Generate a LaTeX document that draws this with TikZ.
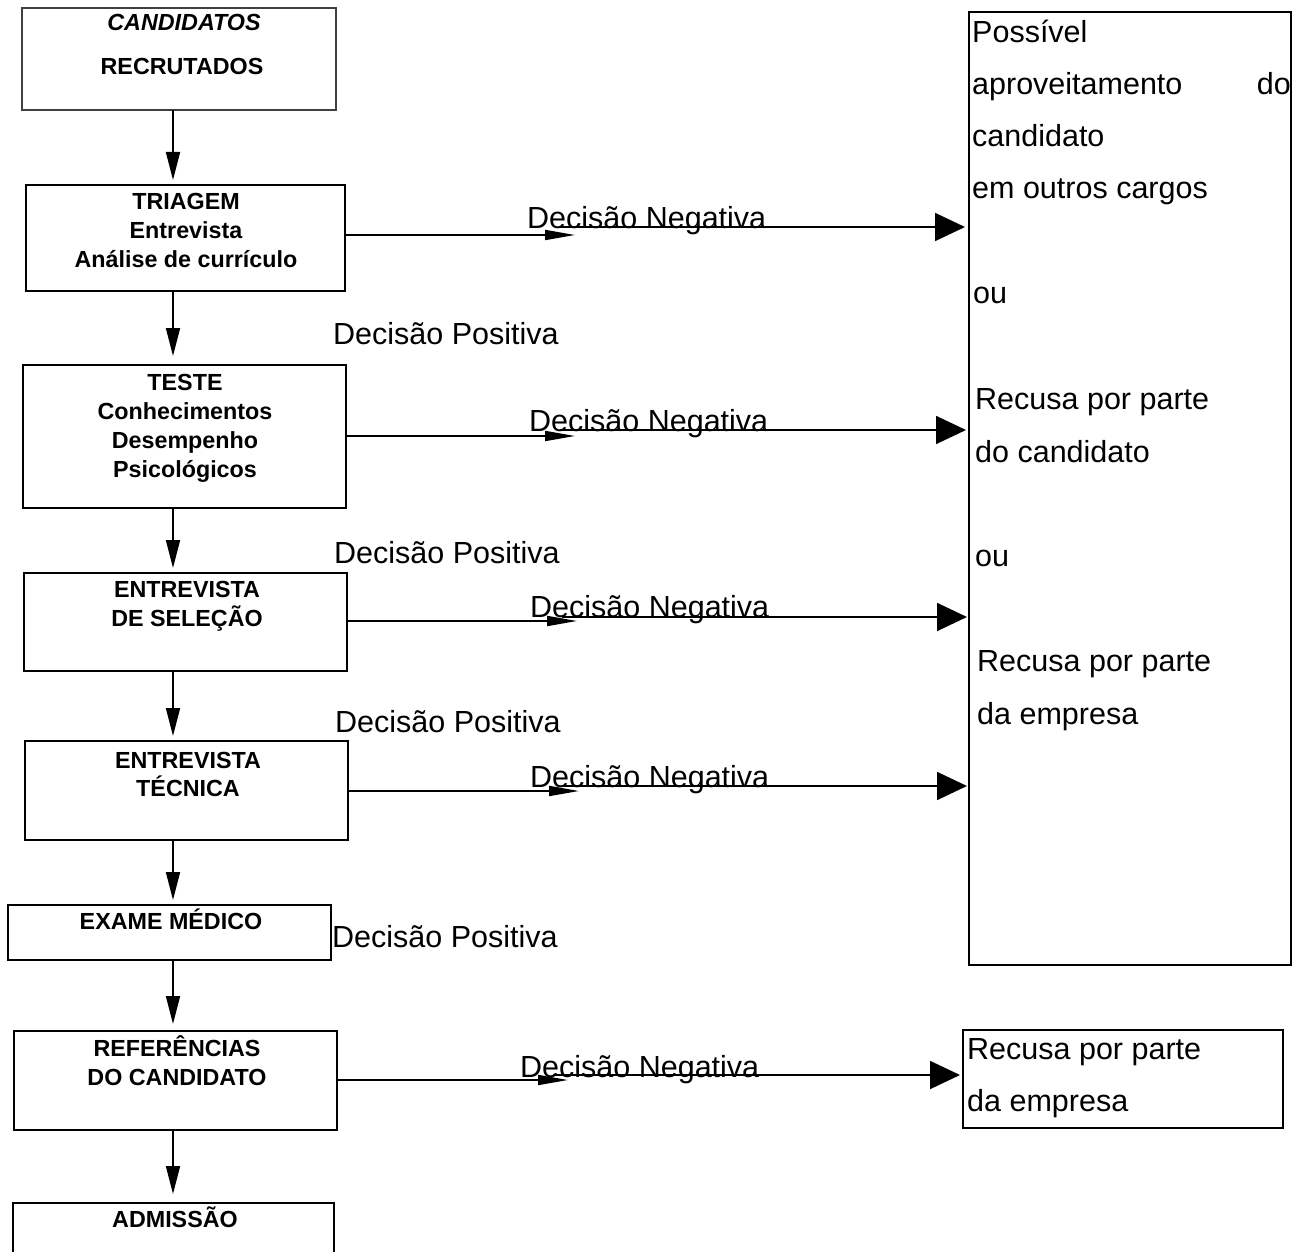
\documentclass[tikz,border=0pt]{standalone}
\usepackage{fontspec}
\setmainfont{Liberation Sans}
\usetikzlibrary{arrows.meta}
\begin{document}
\begin{tikzpicture}[x=1pt,y=-1pt,
  box/.style={draw=black, line width=1.8pt, anchor=north west, inner sep=0pt, outer sep=0pt},
  boxtxt/.style={anchor=base, inner sep=0pt, font=\bfseries\fontsize{23.3}{28}\selectfont},
  lbl/.style={anchor=base west, inner sep=0pt, font=\fontsize{30.5}{36}\selectfont},
  rtxt/.style={anchor=base west, inner sep=0pt, font=\fontsize{30.5}{36}\selectfont},
  varrow/.style={line width=1.8pt, -{Triangle[length=28pt,width=14pt]}},
  smallarrow/.style={line width=1.8pt, -{Triangle[length=30pt,width=10pt]}},
  bigarrow/.style={line width=1.8pt, -{Triangle[length=30pt,width=28pt]}}]
\clip (0,0) rectangle (1302,1252);
\fill[white] (0,0) rectangle (1302,1252);

% left column boxes
\node[box, draw=black!75, line width=1.4pt, minimum width=314pt, minimum height=102pt] (b0) at (22,8) {};
\node[box, minimum width=319pt, minimum height=106pt] (b1) at (26,185) {};
\node[box, minimum width=323pt, minimum height=143pt] (b2) at (23,365) {};
\node[box, minimum width=323pt, minimum height=98pt] (b3) at (24,573) {};
\node[box, minimum width=323pt, minimum height=99pt] (b4) at (25,741) {};
\node[box, minimum width=323pt, minimum height=55pt] (b5) at (8,905) {};
\node[box, minimum width=323pt, minimum height=99pt] (b6) at (14,1031) {};
\node[box, minimum width=321pt, minimum height=80pt] (b7) at (13,1203) {};

% right boxes
\node[box, minimum width=322pt, minimum height=953pt] (R) at (969,12) {};
\node[box, minimum width=320pt, minimum height=98pt] (S) at (963,1030) {};

% box texts
\node[boxtxt, font=\bfseries\itshape\fontsize{23.3}{28}\selectfont] (t0a) at (184,31) {CANDIDATOS};
\node[boxtxt] (t0b) at (182,75) {RECRUTADOS};
\node[boxtxt] (t1a) at (186,210) {TRIAGEM};
\node[boxtxt] (t1b) at (186,238.5) {Entrevista};
\node[boxtxt] (t1c) at (186,267.5) {Análise de currículo};
\node[boxtxt] (t2a) at (185,390) {TESTE};
\node[boxtxt] (t2b) at (185,419) {Conhecimentos};
\node[boxtxt] (t2c) at (185,448) {Desempenho};
\node[boxtxt] (t2d) at (185,477) {Psicológicos};
\node[boxtxt] (t3a) at (187,597) {ENTREVISTA};
\node[boxtxt] (t3b) at (187,626) {DE SELEÇÃO};
\node[boxtxt] (t4a) at (188,768) {ENTREVISTA};
\node[boxtxt] (t4b) at (188,796) {TÉCNICA};
\node[boxtxt] (t5a) at (171,929) {EXAME MÉDICO};
\node[boxtxt] (t6a) at (177,1056) {REFERÊNCIAS};
\node[boxtxt] (t6b) at (177,1085) {DO CANDIDATO};
\node[boxtxt] (t7a) at (175,1227) {ADMISSÃO};

% right box texts
\node[rtxt] (r1) at (972,43) {Possível};
\node[rtxt] (r2) at (972,95) {aproveitamento};
\node[rtxt, anchor=base east] (r2b) at (1291,95) {do};
\node[rtxt] (r3) at (972,147) {candidato};
\node[rtxt] (r4) at (972,199) {em outros cargos};
\node[rtxt] (r5) at (973,303) {ou};
\node[rtxt] (r6) at (975,409) {Recusa por parte};
\node[rtxt] (r7) at (975,462) {do candidato};
\node[rtxt] (r8) at (975,566) {ou};
\node[rtxt] (r9) at (977,671) {Recusa por parte};
\node[rtxt] (r10) at (977,724) {da empresa};
\node[rtxt] (s1) at (967,1059) {Recusa por parte};
\node[rtxt] (s2) at (967,1111) {da empresa};

% vertical arrows
\coordinate (ax) at (173,0);
\draw[varrow, shorten >=5pt] (ax |- b0.south) -- (ax |- b1.north);
\draw[varrow, shorten >=9pt] (ax |- b1.south) -- (ax |- b2.north);
\draw[varrow, shorten >=5pt] (ax |- b2.south) -- (ax |- b3.north);
\draw[varrow, shorten >=5pt] (ax |- b3.south) -- (ax |- b4.north);
\draw[varrow, shorten >=5pt] (ax |- b4.south) -- (ax |- b5.north);
\draw[varrow, shorten >=7pt] (ax |- b5.south) -- (ax |- b6.north);
\draw[varrow, shorten >=9pt] (ax |- b6.south) -- (ax |- b7.north);

% positive labels
\node[lbl] (p1) at (333,344) {Decisão Positiva};
\node[lbl] (p2) at (334,563) {Decisão Positiva};
\node[lbl] (p3) at (335,732) {Decisão Positiva};
\node[lbl] (p4) at (332,947) {Decisão Positiva};

% negative labels
\node[lbl] (n1) at (527,229) {Decisão Negativa};
\node[lbl] (n2) at (529,431) {Decisão Negativa};
\node[lbl] (n3) at (530,617) {Decisão Negativa};
\node[lbl] (n4) at (530,787) {Decisão Negativa};
\node[lbl] (n5) at (520,1077) {Decisão Negativa};

% horizontal arrows
\coordinate (m1) at (575,235);  \coordinate (k1) at (560,227);
\coordinate (m2) at (575,436);  \coordinate (k2) at (560,430);
\coordinate (m3) at (577,621);  \coordinate (k3) at (562,617);
\coordinate (m4) at (579,791);  \coordinate (k4) at (564,786);
\coordinate (m5) at (568,1080); \coordinate (k5) at (553,1075);
\draw[smallarrow] (b1.east |- m1) -- (m1);
\draw[bigarrow, shorten >=4pt] (k1) -- (R.west |- k1);
\draw[smallarrow] (b2.east |- m2) -- (m2);
\draw[bigarrow, shorten >=3pt] (k2) -- (R.west |- k2);
\draw[smallarrow] (b3.east |- m3) -- (m3);
\draw[bigarrow, shorten >=2pt] (k3) -- (R.west |- k3);
\draw[smallarrow] (b4.east |- m4) -- (m4);
\draw[bigarrow, shorten >=2pt] (k4) -- (R.west |- k4);
\draw[smallarrow] (b6.east |- m5) -- (m5);
\draw[bigarrow, shorten >=3pt] (k5) -- (S.west |- k5);
\end{tikzpicture}
\end{document}
